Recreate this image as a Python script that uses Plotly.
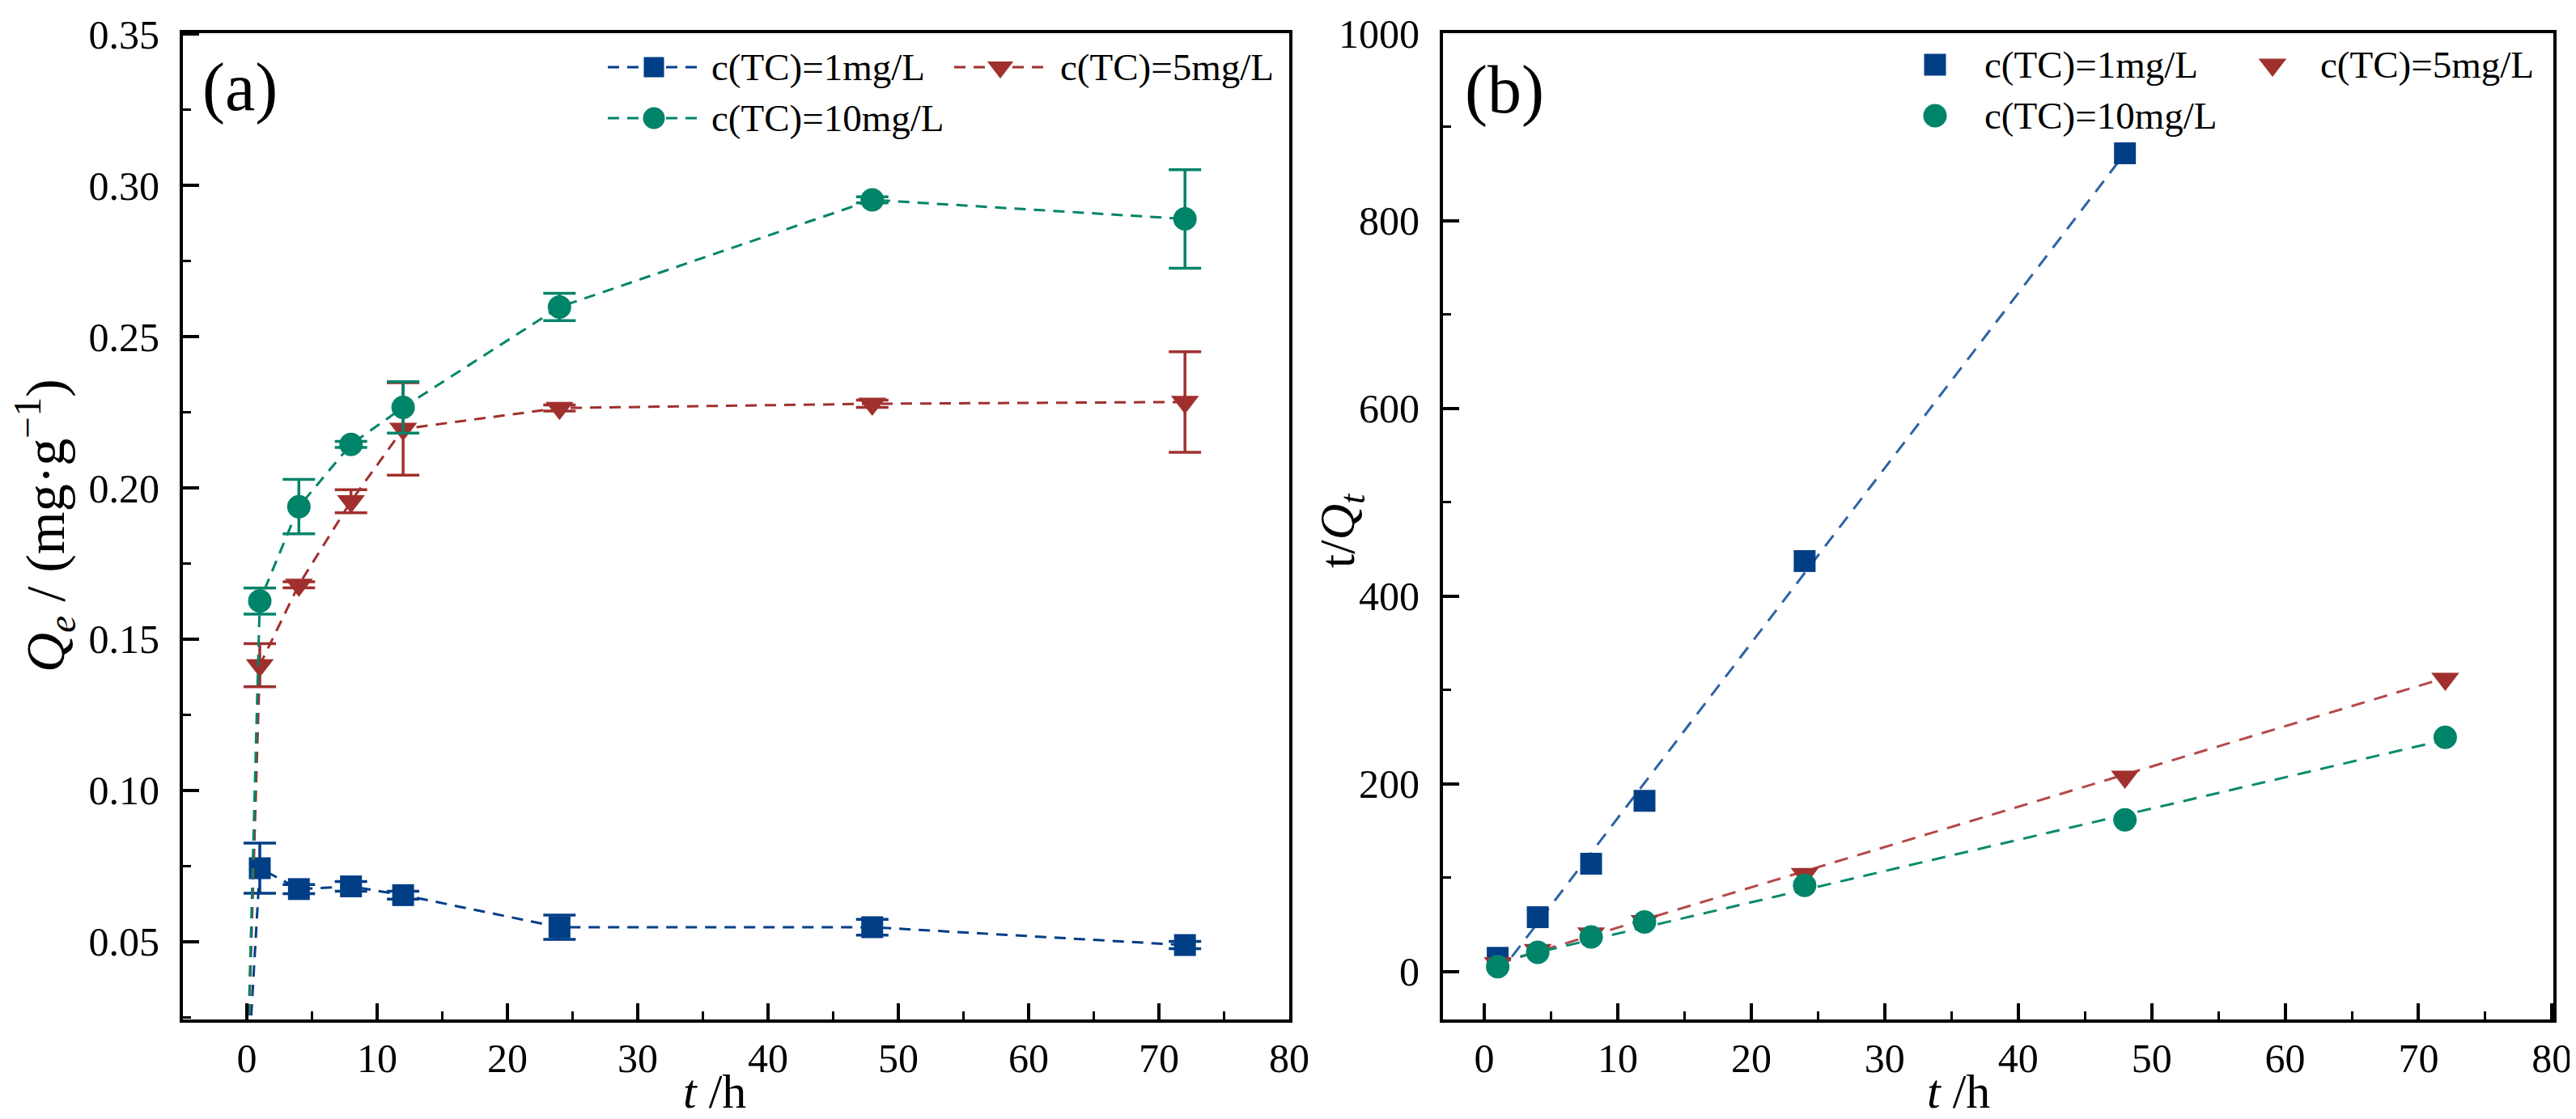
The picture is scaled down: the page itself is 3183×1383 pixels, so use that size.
import plotly.graph_objects as go

W, H = 3183, 1383
FONT = "Liberation Serif"

# ---------------- data: panel (a) Q_e vs t ----------------
t_a = [0, 1, 4, 8, 12, 24, 48, 72]
q_1mg = [0, 0.0743, 0.0674, 0.0683, 0.0654, 0.0548, 0.0548, 0.0489]
e_1mg = [0, 0.0083, 0.0015, 0.0016, 0.0013, 0.0040, 0.0026, 0.0012]
q_5mg = [0, 0.1414, 0.1680, 0.1956, 0.2195, 0.2264, 0.2278, 0.2284]
e_5mg = [0, 0.0071, 0.0010, 0.0038, 0.0153, 0.0010, 0.0012, 0.0166]
q_10mg = [0, 0.1626, 0.1938, 0.2144, 0.2266, 0.2598, 0.2952, 0.2889]
e_10mg = [0, 0.0043, 0.0090, 0.0010, 0.0085, 0.0045, 0.0010, 0.0163]

# ---------------- data: panel (b) t/Q_t vs t ----------------
t_b_1mg = [1, 4, 8, 12, 24, 48]
tq_1mg = [14.7, 58, 115, 182, 437.5, 872]
t_b = [1, 4, 8, 12, 24, 48, 72]
tq_5mg = [9, 23, 40.7, 53.7, 104, 207.6, 312]
tq_10mg = [5.2, 20.5, 37, 53, 91.8, 161.8, 249.6]
# fitted lines (end points)
fit_t_1mg = [1, 48]
fit_1mg = [-4, 872]
fit_t_5mg = [1, 72]
fit_5mg = [8.3, 313]
fit_t_10mg = [1, 72]
fit_10mg = [10.6, 247]

names = ["c(TC)=1mg/L", "c(TC)=5mg/L", "c(TC)=10mg/L"]
colors = ["#003E86", "#A0302E", "#008469"]
line_colors_b = ["#2C62A6", "#B5494A", "#0B8A6F"]
symbols = ["square", "triangle-down", "circle"]
sizes = [27, 30, 29]

fig = go.Figure()

# panel (a)
qa = [q_1mg, q_5mg, q_10mg]
ea = [e_1mg, e_5mg, e_10mg]
for i in range(3):
    fig.add_trace(go.Scatter(
        x=t_a, y=qa[i], mode="lines+markers", name=names[i], showlegend=False,
        line=dict(color=colors[i], width=3, dash="14px,10px"),
        marker=dict(symbol=symbols[i], size=sizes[i], color=colors[i]),
        error_y=dict(type="data", array=ea[i], visible=True,
                     color=colors[i], thickness=3.5, width=20),
        xaxis="x", yaxis="y",
    ))

# panel (b) fit lines
fit_t = [fit_t_1mg, fit_t_5mg, fit_t_10mg]
fit_y = [fit_1mg, fit_5mg, fit_10mg]
for i in range(3):
    fig.add_trace(go.Scatter(
        x=fit_t[i], y=fit_y[i], mode="lines", showlegend=False,
        line=dict(color=line_colors_b[i], width=3, dash="17px,12px"),
        xaxis="x2", yaxis="y2", hoverinfo="skip",
    ))

# panel (b) points
tb = [t_b_1mg, t_b, t_b]
yb = [tq_1mg, tq_5mg, tq_10mg]
for i in range(3):
    fig.add_trace(go.Scatter(
        x=tb[i], y=yb[i], mode="markers", name=names[i], showlegend=False,
        marker=dict(symbol=symbols[i], size=sizes[i], color=colors[i]),
        xaxis="x2", yaxis="y2",
    ))

tickfont = dict(family=FONT, size=50, color="black")
common_axis = dict(
    showline=True, linewidth=4, linecolor="black", mirror=True,
    ticks="inside", ticklen=20, tickwidth=4, tickcolor="black",
    showgrid=False, zeroline=False, tickfont=tickfont,
    automargin=False,
)

ydom = [1 - 1252 / H, 1 - 33 / H]
fig.update_layout(
    width=W, height=H,
    margin=dict(l=0, r=0, t=0, b=0, autoexpand=False),
    paper_bgcolor="white", plot_bgcolor="white",
    font=dict(family=FONT, color="black"),
    showlegend=False,
    xaxis=dict(domain=[218 / W, 1585 / W], range=[-4.9, 80], dtick=10, tick0=0,
               minor=dict(ticks="inside", ticklen=10, tickwidth=3, dtick=5, tick0=0, tickcolor="black"),
               anchor="y", ticklabelstandoff=1, **common_axis),
    yaxis=dict(domain=ydom, range=[0.0243, 0.3503], dtick=0.05, tick0=0, tickformat=".2f",
               minor=dict(ticks="inside", ticklen=10, tickwidth=3, dtick=0.025, tick0=0, tickcolor="black"),
               anchor="x", ticklabelstandoff=15, **common_axis),
    xaxis2=dict(domain=[1775 / W, 3147 / W], range=[-3.1, 80.1], dtick=10, tick0=0,
                minor=dict(ticks="inside", ticklen=10, tickwidth=3, dtick=5, tick0=0, tickcolor="black"),
                anchor="y2", ticklabelstandoff=1, **common_axis),
    yaxis2=dict(domain=ydom, range=[-51, 1000], dtick=200, tick0=0,
                minor=dict(ticks="inside", ticklen=10, tickwidth=3, dtick=100, tick0=0, tickcolor="black"),
                anchor="x2", ticklabelstandoff=15, **common_axis),
)


def px(x):
    return x / W


def py(y):
    return 1 - y / H


shapes = []
ann = []


def marker_shape(kind, cx, cy, color, size):
    r = size / 2.0
    base = dict(xref="paper", yref="paper", xsizemode="pixel", ysizemode="pixel",
                xanchor=px(cx), yanchor=py(cy), fillcolor=color, line=dict(width=0))
    if kind == "square":
        base.update(type="rect", x0=-r, x1=r, y0=-r, y1=r)
    elif kind == "circle":
        base.update(type="circle", x0=-r, x1=r, y0=-r, y1=r)
    else:  # triangle-down (pixel y points up in shape space)
        rt = r * 2 / 3 ** 0.5
        base.update(type="path", path=f"M{-rt},{r / 2} L{rt},{r / 2} L0,{-r} Z")
    return base


# legend of panel (a): dashed line sample + marker + text
leg_a = [(743, 855, 800, 869, 75), (1171, 1285, 1228, 1300, 75), (743, 855, 800, 869, 138)]
for i, (lx0, lx1, mx, tx, ry) in enumerate(leg_a):
    shapes.append(dict(type="line", xref="paper", yref="paper", x0=px(lx0), x1=px(lx1),
                       y0=py(ry), y1=py(ry), line=dict(color=colors[i], width=3, dash="14px,10px")))
    shapes.append(marker_shape(symbols[i], mx, ry, colors[i], sizes[i] - 2))
    ann.append(dict(text=names[i], x=px(tx), y=py(ry), xanchor="left", yanchor="middle",
                    font=dict(family=FONT, size=47)))

# legend of panel (b): marker + text
leg_b = [(2383, 2442, 72), (2800, 2857, 72), (2383, 2442, 135)]
for i, (mx, tx, ry) in enumerate(leg_b):
    shapes.append(marker_shape(symbols[i], mx, ry, colors[i], sizes[i]))
    ann.append(dict(text=names[i], x=px(tx), y=py(ry), xanchor="left", yanchor="middle",
                    font=dict(family=FONT, size=47)))

ann += [
    dict(text="(a)", x=px(240), y=py(100), xanchor="left", yanchor="middle",
         font=dict(family=FONT, size=84)),
    dict(text="(b)", x=px(1800), y=py(103), xanchor="left", yanchor="middle",
         font=dict(family=FONT, size=84)),
    dict(text="<i>Q</i><sub><i>e</i></sub> / (mg·g<sup>−1</sup>)", x=px(47), y=py(642),
         xanchor="center", yanchor="middle", textangle=-90,
         font=dict(family=FONT, size=68)),
    dict(text="t/<i>Q</i><sub><i>t</i></sub>", x=px(1648), y=py(648),
         xanchor="center", yanchor="middle", textangle=-90,
         font=dict(family=FONT, size=62)),
    dict(text="<i>t</i> /h", x=px(875), y=py(1341), xanchor="center", yanchor="middle",
         font=dict(family=FONT, size=60)),
    dict(text="<i>t</i> /h", x=px(2412), y=py(1341), xanchor="center", yanchor="middle",
         font=dict(family=FONT, size=60)),
]
for a in ann:
    a.update(xref="paper", yref="paper", showarrow=False)
fig.update_layout(annotations=ann, shapes=shapes)

fig.write_html("out.html")
